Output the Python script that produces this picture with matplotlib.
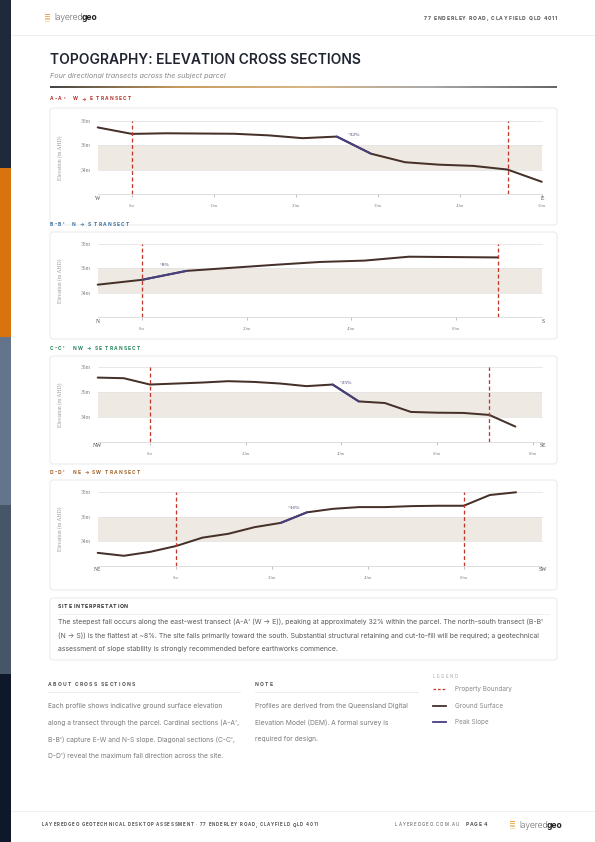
import matplotlib
matplotlib.use("Agg")
import matplotlib.pyplot as plt
from matplotlib.patches import FancyBboxPatch, Rectangle
from matplotlib.colors import LinearSegmentedColormap
from matplotlib.textpath import TextToPath
from matplotlib.font_manager import FontProperties
import numpy as np

plt.rcParams['font.family'] = ['Inter', 'DejaVu Sans']

# ---- transect data (distance along section in m, ground elevation in m AHD)
a_dist = [-4.17, 0.0, 4.17, 8.33, 12.5, 16.67, 20.83, 25.0, 29.17, 33.33, 37.5, 41.67, 45.83, 50.0]
a_elev = [37.45, 36.92, 36.97, 36.95, 36.93, 36.8, 36.57, 36.7, 35.3, 34.6, 34.4, 34.3, 34.0, 33.0]
a_ticks = [0, 10, 20, 30, 40, 50]
a_bounds = [0.0, 45.83]

b_dist = [-8.5, 0.0, 8.5, 17.0, 25.5, 34.0, 42.5, 51.0, 59.5, 68.0]
b_elev = [34.67, 35.07, 35.8, 36.05, 36.3, 36.53, 36.64, 36.96, 36.93, 36.9]
b_ticks = [0, 20, 40, 60]
b_bounds = [0.0, 68.0]

c_dist = [-10.9, -5.45, 0.0, 5.45, 10.9, 16.35, 21.8, 27.25, 32.7, 38.15, 43.6,
          49.05, 54.5, 59.95, 65.4, 70.85, 76.3]
c_elev = [37.17, 37.12, 36.61, 36.69, 36.77, 36.88, 36.82, 36.69, 36.48, 36.61, 35.25,
          35.12, 34.4, 34.34, 34.32, 34.16, 33.22]
c_ticks = [0, 20, 40, 60, 80]
c_bounds = [0.0, 70.85]

d_dist = [-16.35, -10.9, -5.45, 0.0, 5.45, 10.9, 16.35, 21.8, 27.25, 32.7, 38.15,
          43.6, 49.05, 54.5, 59.95, 65.4, 70.85]
d_elev = [33.05, 32.81, 33.13, 33.61, 34.29, 34.61, 35.15, 35.5, 36.36, 36.65, 36.79,
          36.79, 36.87, 36.9, 36.9, 37.78, 38.0]
d_ticks = [0, 20, 40, 60]
d_bounds = [0.0, 59.95]

names = ["A-A'", "B-B'", "C-C'", "D-D'"]
directions = [("W", "E"), ("N", "S"), ("NW", "SE"), ("NE", "SW")]
x_ends = [50.0, 76.4, 81.8, 76.2]
peak_index = [7, 1, 9, 7]           # peak slope segment starts at this point
slope_labels = ["~32%", "~8%", "~25%", "~16%"]
label_colors = ['#b8322a', '#3a6f9f', '#23835a', '#a0612a']

GROUND = '#45302a'
PEAK = '#463f80'
BOUND = '#c0392b'
BAND = '#eee9e2'

W, H = 595, 842
fig = plt.figure(figsize=(W / 72, H / 72), dpi=72)
page = fig.add_axes([0, 0, 1, 1])
page.set_xlim(0, W)
page.set_ylim(H, 0)
page.axis('off')

_ttp = TextToPath()


def text_w(s, fp):
    if not s:
        return 0.0
    bar = _ttp.get_text_width_height_descent('|', fp, ismath=False)[0]
    return _ttp.get_text_width_height_descent(s + '|', fp, ismath=False)[0] - bar


def spaced(x, y, s, size, track=0.0, width=None, weight='normal', color='#555555', ha='left'):
    # letter-spaced caps, drawn one glyph at a time
    fp = FontProperties(family=['Inter', 'DejaVu Sans'], size=size, weight=weight)
    natural = text_w(s, fp)
    if width is not None:
        track = (width - natural) / (len(s) - 1)
    total = natural + track * (len(s) - 1)
    if ha == 'right':
        x -= total
    elif ha == 'center':
        x -= total / 2
    for k, ch in enumerate(s):
        if ch == ' ':
            continue
        page.text(x + text_w(s[:k], fp) + k * track, y, ch, fontsize=size, weight=weight,
                  color=color, va='center', ha='left')


def px_axes(x0, y0, x1, y1):
    return fig.add_axes([x0 / W, 1 - y1 / H, (x1 - x0) / W, (y1 - y0) / H])


# left colour strip
strip = ['#1e293b', '#d9730d', '#64748b', '#475569', '#0f172a']
for i, c in enumerate(strip):
    page.add_patch(Rectangle((0, i * H / 5), 11, H / 5, color=c, lw=0))


def logo(x, y, size):
    for k, c in enumerate(['#f2a33a', '#e9b46a', '#f0c98e', '#f5dcb5']):
        page.add_patch(Rectangle((x, y - 4.5 + k * 2.4), 5, 1.5, color=c, lw=0))
    t = page.text(x + 9, y, "layered", fontsize=size, weight='light', color='#333333',
                  va='center', ha='left')
    page.annotate("geo", xy=(1, 0), xycoords=t, xytext=(-1.2, 0), textcoords='offset points',
                  fontsize=size, weight='bold', color='#222222', va='bottom', ha='left')


# header
logo(45, 18, 8.5)
spaced(557, 18.5, "77 ENDERLEY ROAD, CLAYFIELD QLD 4011", 5.0, width=133, weight='bold',
       color='#555555', ha='right')
page.plot([11, W], [35, 35], color='#ececec', lw=0.8)

page.text(50, 60, "TOPOGRAPHY: ELEVATION CROSS SECTIONS", fontsize=13.9, weight='semibold',
          color='#1f2430', va='center')
page.text(50, 76, "Four directional transects across the subject parcel", fontsize=7.2,
          style='italic', color='#888888', va='center')
grad = LinearSegmentedColormap.from_list('rule', ['#444444', '#c99a5c', '#d8b684', '#aaaaaa', '#666666'])
page.imshow(np.linspace(0, 1, 256)[None, :], cmap=grad, aspect='auto',
            extent=(50, 557, 88, 86.5), zorder=2)
page.set_xlim(0, W)
page.set_ylim(H, 0)

# transect panels
all_dist = [a_dist, b_dist, c_dist, d_dist]
all_elev = [a_elev, b_elev, c_elev, d_elev]
all_ticks = [a_ticks, b_ticks, c_ticks, d_ticks]
all_bounds = [a_bounds, b_bounds, c_bounds, d_bounds]
label_y = [99, 224, 348, 472]
cards = [(108, 225), (232, 339), (356, 464), (480, 590)]
plots = [(120.7, 194), (244, 317.3), (367.3, 441.7), (492.3, 565.7)]

for i in range(4):
    ly = label_y[i]
    spaced(50, ly, f"{names[i]}   {directions[i][0]} \u2192 {directions[i][1]} TRANSECT",
           4.8, track=1.2, weight='bold', color=label_colors[i])
    cy0, cy1 = cards[i]
    page.add_patch(FancyBboxPatch((50, cy0), 507, cy1 - cy0,
                                  boxstyle='round,pad=0,rounding_size=3',
                                  fc='white', ec='#e4e4e4', lw=0.8))

    py0, py1 = plots[i]
    ax = px_axes(97.7, py0, 541.7, py1)
    ax.set_facecolor('none')
    dist = all_dist[i]
    elev = all_elev[i]
    ax.set_xlim(dist[0], x_ends[i])
    ax.set_ylim(32, 38)
    ax.axhspan(34, 36, color=BAND, lw=0, zorder=0)
    for g in [34, 36, 38]:
        ax.axhline(g, color='#e3e3e3', lw=0.8, zorder=0.5, clip_on=False)
    for s in ['top', 'right', 'left']:
        ax.spines[s].set_visible(False)
    ax.spines['bottom'].set_color('#d6d6d6')
    ax.spines['bottom'].set_linewidth(0.8)

    ax.plot(dist, elev, color=GROUND, lw=2, solid_capstyle='round',
            solid_joinstyle='round', zorder=3, clip_on=False)
    p = peak_index[i]
    ax.plot(dist[p:p + 2], elev[p:p + 2], color=PEAK, lw=2, zorder=4,
            solid_capstyle='round')
    mx = (dist[p] + dist[p + 1]) / 2
    my = (elev[p] + elev[p + 1]) / 2
    ax.annotate(slope_labels[i], (mx, my), xytext=(0, 10), textcoords='offset points',
                ha='center', va='center', fontsize=5.2, color='#3b3a6b',
                family='Liberation Serif', zorder=5)

    for b in all_bounds[i]:
        ax.axvline(b, color=BOUND, lw=1.3, ls=(0, (3, 2)), zorder=4)

    ax.set_yticks([34, 36, 38])
    ax.set_yticklabels(['34m', '36m', '38m'], family='Liberation Serif',
                       fontsize=5.6, color='#8a8a8a')
    ax.tick_params(axis='y', length=0, pad=7)
    ticks = all_ticks[i]
    ax.set_xticks(ticks)
    ax.set_xticklabels([f"{t}m" for t in ticks], family='Liberation Serif',
                       fontsize=4.6, color='#8a8a8a')
    ax.tick_params(axis='x', length=3, width=0.6, color='#9a9a9a', pad=7)
    ax.set_ylabel("Elevation (m AHD)", family='Liberation Serif', fontsize=5.6,
                  color='#9a9a9a')
    ax.yaxis.set_label_coords(-0.078, 0.5)

    ax.annotate(directions[i][0], (0, 0), xycoords='axes fraction', xytext=(0, -4),
                textcoords='offset points', ha='center', va='center',
                family='Liberation Serif', fontsize=5.6, color='#444444')
    ax.annotate(directions[i][1], (1, 0), xycoords='axes fraction', xytext=(1, -4),
                textcoords='offset points', ha='center', va='center',
                family='Liberation Serif', fontsize=5.6, color='#444444')

# site interpretation box
page.add_patch(FancyBboxPatch((50, 598), 507, 62, boxstyle='round,pad=0,rounding_size=3',
                              fc='white', ec='#e4e4e4', lw=0.8))
spaced(58, 607, "SITE INTERPRETATION", 5.2, width=70, weight='bold', color='#333333')
page.plot([58, 549], [614, 614], color='#ececec', lw=0.8)
interp = [
    "The steepest fall occurs along the east-west transect (A-A' (W \u2192 E)), peaking at approximately 32% within the parcel. The north-south transect (B-B'",
    "(N \u2192 S)) is the flattest at ~8%. The site falls primarily toward the south. Substantial structural retaining and cut-to-fill will be required; a geotechnical",
    "assessment of slope stability is strongly recommended before earthworks commence.",
]
for k, line in enumerate(interp):
    page.text(58, 622 + k * 13.5, line, fontsize=6.9, color='#5a5a5a', va='center')

# about / note / legend
spaced(48, 684, "ABOUT CROSS SECTIONS", 5.0, width=87, weight='bold', color='#555555')
page.plot([48, 240], [692, 692], color='#e8e8e8', lw=0.8)
about = [
    "Each profile shows indicative ground surface elevation",
    "along a transect through the parcel. Cardinal sections (A-A',",
    "B-B') capture E-W and N-S slope. Diagonal sections (C-C',",
    "D-D') reveal the maximum fall direction across the site.",
]
for k, line in enumerate(about):
    page.text(48, 706 + k * 16.7, line, fontsize=6.7, color='#7a7a7a', va='center')

spaced(255, 684, "NOTE", 5.0, track=1.3, weight='bold', color='#555555')
page.plot([255, 418], [692, 692], color='#e8e8e8', lw=0.8)
note = [
    "Profiles are derived from the Queensland Digital",
    "Elevation Model (DEM). A formal survey is",
    "required for design.",
]
for k, line in enumerate(note):
    page.text(255, 706 + k * 16.7, line, fontsize=6.7, color='#7a7a7a', va='center')

spaced(433, 676, "LEGEND", 4.5, track=1.3, color='#aaaaaa')
legend_items = [("Property Boundary", BOUND, (0, (2, 1.5))),
                ("Ground Surface", GROUND, '-'),
                ("Peak Slope", PEAK, '-')]
for k, (lab, col, ls) in enumerate(legend_items):
    yy = 689 + k * 16.5
    page.plot([433, 446], [yy, yy], color=col, ls=ls, lw=1.3 if k == 0 else 1.8)
    page.text(455, yy, lab, fontsize=6.4, color='#8a8a8a', va='center')

# footer
page.plot([11, W], [811, 811], color='#eeeeee', lw=0.8)
spaced(42, 825, "LAYEREDGEO GEOTECHNICAL DESKTOP ASSESSMENT \u00b7 77 ENDERLEY ROAD, CLAYFIELD QLD 4011",
       4.4, width=276, weight='bold', color='#555555')
spaced(395, 825, "LAYEREDGEO.COM.AU", 4.4, width=64, color='#555555')
spaced(466, 825, "PAGE 4", 5.0, width=21, weight='bold', color='#555555')
logo(510, 825, 8.5)

fig.savefig("out.png", dpi=72)
